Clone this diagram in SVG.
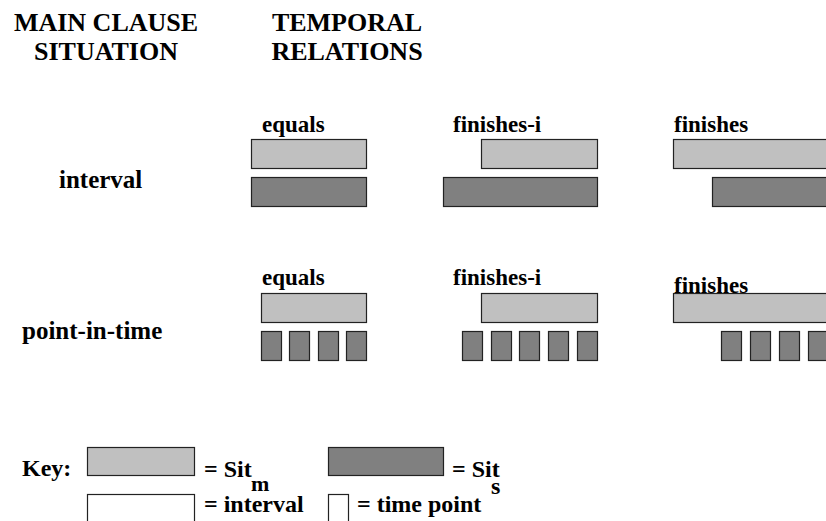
<svg xmlns="http://www.w3.org/2000/svg" width="826" height="521" viewBox="0 0 826 521" font-family="Liberation Serif, DejaVu Serif, serif">
  <style>
    text { font-family: "Liberation Serif", "DejaVu Serif", serif; font-weight: bold; fill: #000; }
    .head { font-size: 26px; text-anchor: middle; }
    .row { font-size: 25px; }
    .rel { font-size: 23px; }
    .key { font-size: 24px; }
    .m { fill: #c0c0c0; stroke: #222; stroke-width: 1.2; }
    .s { fill: #808080; stroke: #222; stroke-width: 1.2; }
    .w { fill: #fff; stroke: #222; stroke-width: 1.2; }
  </style>

  <!-- column headings -->
  <g id="heading-situation">
    <text class="head" x="106" y="31">MAIN CLAUSE</text>
    <text class="head" x="106" y="60">SITUATION</text>
  </g>
  <g id="heading-relations">
    <text class="head" x="347" y="31">TEMPORAL</text>
    <text class="head" x="347" y="60">RELATIONS</text>
  </g>

  <!-- row: interval -->
  <g id="row-interval">
    <text class="row" x="59" y="188">interval</text>
  </g>
  <g id="interval-equals">
    <text class="rel" x="262" y="132">equals</text>
    <rect class="m" x="251.5" y="139.5" width="115" height="29"/>
    <rect class="s" x="251.5" y="177.5" width="115" height="29"/>
  </g>
  <g id="interval-finishes-i">
    <text class="rel" x="453" y="132">finishes-i</text>
    <rect class="m" x="481.5" y="139.5" width="116" height="29"/>
    <rect class="s" x="443.5" y="177.5" width="154" height="29"/>
  </g>
  <g id="interval-finishes">
    <text class="rel" x="674" y="132">finishes</text>
    <rect class="m" x="673.5" y="139.5" width="160" height="29"/>
    <rect class="s" x="712.5" y="177.5" width="120" height="29"/>
  </g>

  <!-- row: point-in-time -->
  <g id="row-point">
    <text class="row" x="22" y="339">point-in-time</text>
  </g>
  <g id="point-equals">
    <text class="rel" x="262" y="285">equals</text>
    <rect class="m" x="261.5" y="293.5" width="105" height="29"/>
    <rect class="s" x="261.5" y="331.5" width="20" height="29"/>
    <rect class="s" x="289.5" y="331.5" width="20" height="29"/>
    <rect class="s" x="318.5" y="331.5" width="20" height="29"/>
    <rect class="s" x="346.5" y="331.5" width="20" height="29"/>
  </g>
  <g id="point-finishes-i">
    <text class="rel" x="453" y="285">finishes-i</text>
    <rect class="m" x="481.5" y="293.5" width="116" height="29"/>
    <rect class="s" x="462.5" y="331.5" width="20" height="29"/>
    <rect class="s" x="491.5" y="331.5" width="20" height="29"/>
    <rect class="s" x="519.5" y="331.5" width="20" height="29"/>
    <rect class="s" x="548.5" y="331.5" width="20" height="29"/>
    <rect class="s" x="577.5" y="331.5" width="20" height="29"/>
  </g>
  <g id="point-finishes">
    <rect class="m" x="673.5" y="293.5" width="160" height="29"/>
    <text class="rel" x="674" y="293">finishes</text>
    <rect class="s" x="721.5" y="331.5" width="20" height="29"/>
    <rect class="s" x="750.5" y="331.5" width="20" height="29"/>
    <rect class="s" x="779.5" y="331.5" width="20" height="29"/>
    <rect class="s" x="808.5" y="331.5" width="20" height="29"/>
  </g>

  <!-- legend -->
  <g id="key">
    <text class="key" x="22" y="476">Key:</text>
    <rect class="m" x="87.5" y="447.5" width="107" height="28"/>
    <text class="key" x="204" y="477">= Sit<tspan x="251" y="491" font-size="22">m</tspan></text>
    <rect class="s" x="328.5" y="447.5" width="115" height="28"/>
    <text class="key" x="452" y="477">= Sit<tspan x="491" y="494">s</tspan></text>
    <rect class="w" x="87.5" y="494.5" width="107" height="40"/>
    <text class="key" x="204" y="512">= interval</text>
    <rect class="w" x="328.5" y="494.5" width="20" height="40"/>
    <text class="key" x="357" y="512">= time point</text>
  </g>
</svg>
